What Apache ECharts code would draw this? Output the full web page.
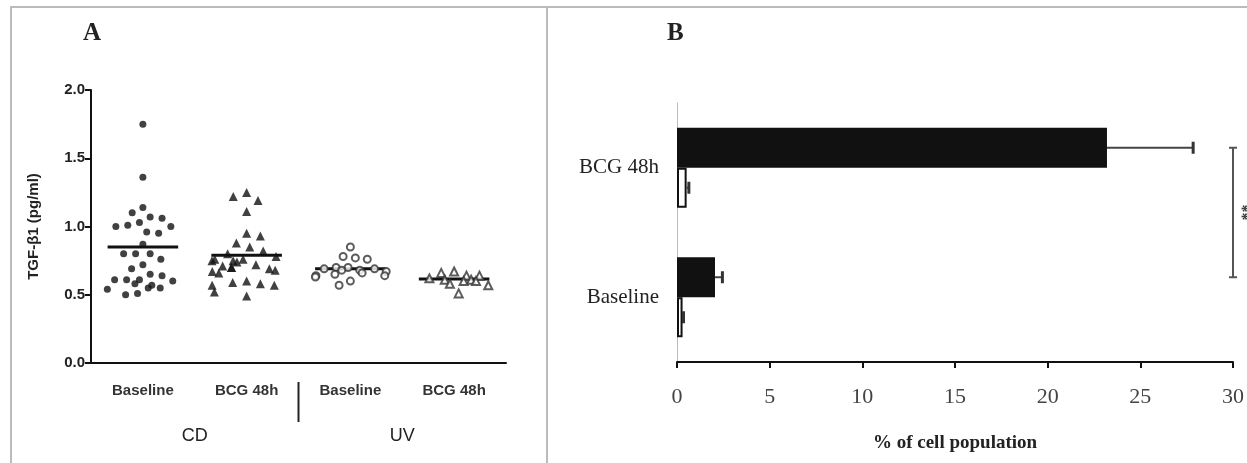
<!DOCTYPE html>
<html>
<head>
<meta charset="utf-8">
<script src="https://cdn.jsdelivr.net/npm/echarts@6/dist/echarts.min.js"></script>
<style>
    html, body { margin: 0; padding: 0; background: #fff; }
    #chart { width: 1247px; height: 463px; }
</style>
</head>
<body>
<div id="chart"></div>
<script>
// panel A: TGF-beta1 per subject
var groupLabels = ['Baseline', 'BCG 48h', 'Baseline', 'BCG 48h'];
var cohortLabels = ['CD', 'UV'];
var cdBaseline = [1.75, 1.36, 1.14, 1.10, 1.07, 1.06, 1.03, 1.01, 1.00, 1.00, 0.96, 0.95, 0.87, 0.80, 0.80, 0.80,
    0.76, 0.72, 0.69, 0.65, 0.64, 0.61, 0.61, 0.61, 0.60, 0.58, 0.57, 0.55, 0.55, 0.54, 0.51, 0.50];
var cdBcg = [1.25, 1.22, 1.19, 1.11, 0.95, 0.93, 0.88, 0.85, 0.82, 0.80, 0.78, 0.76, 0.76, 0.75, 0.75, 0.74,
    0.72, 0.71, 0.70, 0.70, 0.69, 0.68, 0.67, 0.66, 0.60, 0.59, 0.58, 0.57, 0.57, 0.52, 0.49];
var uvBaseline = [0.85, 0.78, 0.77, 0.76, 0.70, 0.70, 0.69, 0.69, 0.68, 0.68, 0.67, 0.66, 0.65, 0.64, 0.64, 0.63, 0.60, 0.57];
var uvBcg = [0.67, 0.66, 0.64, 0.64, 0.62, 0.61, 0.61, 0.60, 0.60, 0.58, 0.57, 0.51];
var groupMeans = [0.85, 0.79, 0.69, 0.615];

// panel B: % of cell population
var timeLabels = ['Baseline', 'BCG 48h'];
var cdPercent = [2.05, 23.2];
var cdPercentErr = [0.4, 4.65];
var uvPercent = [0.3, 0.52];
var uvPercentErr = [0.05, 0.12];

var SERIF = "'Liberation Serif', 'DejaVu Serif', serif";
var SANS = "'Liberation Sans', Arial, sans-serif";
var BAR_W = 40;

function toPoints(idx, values) {
    return values.map(function (v) {
        return [idx, v];
    });
}

function errorData(values, errs, slot) {
    return values.map(function (v, i) {
        return [v, i, errs[i], slot];
    });
}

var chart = echarts.init(document.getElementById('chart'));

var option = {
    animation: false,
    backgroundColor: '#fff',
    textStyle: {fontFamily: SANS},
    title: [
        {text: 'A', left: 78, top: 16, textStyle: {fontFamily: SERIF, fontSize: 25, fontWeight: 'bold', color: '#222'}},
        {text: 'B', left: 662, top: 16, textStyle: {fontFamily: SERIF, fontSize: 25, fontWeight: 'bold', color: '#222'}}
    ],
    grid: [
        {left: 91, top: 90, width: 415, height: 273},
        {left: 677, top: 103, width: 558, height: 259}
    ],
    xAxis: [
        {
            gridIndex: 0,
            type: 'category',
            data: groupLabels,
            jitter: 72,
            jitterOverlap: false,
            jitterMargin: 5,
            axisLine: {lineStyle: {color: '#111', width: 2}},
            axisTick: {alignWithLabel: true, length: 7, lineStyle: {color: '#111', width: 2}},
            axisLabel: {margin: 20, fontSize: 15, fontWeight: 'bold', color: '#333', fontFamily: SANS}
        },
        {
            gridIndex: 0,
            type: 'category',
            data: cohortLabels,
            position: 'bottom',
            offset: 54,
            axisLine: {show: false},
            axisTick: {show: false},
            axisLabel: {margin: 10, fontSize: 18, color: '#222', fontFamily: SANS}
        },
        {
            gridIndex: 1,
            type: 'value',
            min: 0,
            max: 30,
            interval: 5,
            splitLine: {show: false},
            axisLine: {show: true, lineStyle: {color: '#111', width: 2}},
            axisTick: {show: true, length: 6, lineStyle: {color: '#111', width: 2}},
            axisLabel: {margin: 24, fontSize: 22, color: '#444', fontFamily: SERIF},
            name: '% of cell population',
            nameLocation: 'middle',
            nameGap: 72,
            nameTextStyle: {fontSize: 19, fontWeight: 'bold', color: '#222', fontFamily: SERIF}
        }
    ],
    yAxis: [
        {
            gridIndex: 0,
            type: 'value',
            min: 0,
            max: 2,
            interval: 0.5,
            splitLine: {show: false},
            axisLine: {show: true, lineStyle: {color: '#111', width: 2}},
            axisTick: {show: true, length: 6, lineStyle: {color: '#111', width: 2}},
            axisLabel: {
                margin: 6, fontSize: 15, fontWeight: 'bold', color: '#222',
                formatter: function (v) {
                    return v.toFixed(1);
                }
            },
            name: 'TGF-β1 (pg/ml)',
            nameLocation: 'middle',
            nameRotate: 90,
            nameGap: 50,
            nameTextStyle: {fontSize: 15, fontWeight: 'bold', color: '#222'}
        },
        {
            gridIndex: 1,
            type: 'category',
            data: timeLabels,
            axisLine: {lineStyle: {color: '#bbb', width: 1}},
            axisTick: {show: false},
            axisLabel: {margin: 18, fontSize: 21, color: '#222', fontFamily: SERIF}
        }
    ],
    series: [
        {
            name: 'CD Baseline', type: 'scatter', xAxisIndex: 0, yAxisIndex: 0,
            symbol: 'circle', symbolSize: 7,
            itemStyle: {color: '#111'},
            data: toPoints(0, cdBaseline)
        },
        {
            name: 'CD BCG 48h', type: 'scatter', xAxisIndex: 0, yAxisIndex: 0,
            symbol: 'triangle', symbolSize: 9,
            itemStyle: {color: '#111'},
            data: toPoints(1, cdBcg)
        },
        {
            name: 'UV Baseline', type: 'scatter', xAxisIndex: 0, yAxisIndex: 0,
            symbol: 'emptyCircle', symbolSize: 7,
            itemStyle: {color: '#333', borderWidth: 1.2},
            data: toPoints(2, uvBaseline)
        },
        {
            name: 'UV BCG 48h', type: 'scatter', xAxisIndex: 0, yAxisIndex: 0,
            symbol: 'emptyTriangle', symbolSize: 8,
            itemStyle: {color: '#333', borderWidth: 1.2},
            data: toPoints(3, uvBcg)
        },
        {
            name: 'mean', type: 'custom', xAxisIndex: 0, yAxisIndex: 0,
            clip: false,
            data: groupMeans.map(function (m, i) {
                return [i, m];
            }),
            renderItem: function (params, api) {
                var p = api.coord([api.value(0), api.value(1)]);
                var half = api.size([1, 0])[0] * 0.34;
                return {
                    type: 'line',
                    shape: {x1: p[0] - half, y1: p[1], x2: p[0] + half, y2: p[1]},
                    style: {stroke: '#111', lineWidth: 3}
                };
            }
        },
        {
            name: 'CD', type: 'bar', xAxisIndex: 2, yAxisIndex: 1,
            barWidth: BAR_W, barGap: '0%',
            itemStyle: {color: '#111'},
            data: cdPercent
        },
        {
            name: 'UV', type: 'bar', xAxisIndex: 2, yAxisIndex: 1,
            barWidth: BAR_W, barGap: '0%',
            itemStyle: {color: '#fff', borderColor: '#111', borderWidth: 2},
            data: uvPercent
        },
        {
            name: 'error', type: 'custom', xAxisIndex: 2, yAxisIndex: 1,
            clip: false,
            z: 3,
            data: errorData(cdPercent, cdPercentErr, 0).concat(errorData(uvPercent, uvPercentErr, 1)),
            renderItem: function (params, api) {
                var v = api.value(0);
                var c = api.value(1);
                var start = api.coord([v, c]);
                var end = api.coord([v + api.value(2), c]);
                var y = start[1] + (api.value(3) === 0 ? -1 : 1) * BAR_W / 2;
                return {
                    type: 'group',
                    children: [
                        {type: 'line', shape: {x1: start[0], y1: y, x2: end[0], y2: y}, style: {stroke: '#444', lineWidth: 2}},
                        {type: 'line', shape: {x1: end[0], y1: y - 6, x2: end[0], y2: y + 6}, style: {stroke: '#333', lineWidth: 3}}
                    ]
                };
            }
        },
        {
            name: 'significance', type: 'custom', xAxisIndex: 2, yAxisIndex: 1,
            clip: false,
            data: [[30, 1, 0]],
            renderItem: function (params, api) {
                var top = api.coord([api.value(0), api.value(1)]);
                var bottom = api.coord([api.value(0), api.value(2)]);
                var x = top[0];
                var y1 = top[1] - BAR_W / 2;
                var y2 = bottom[1] - BAR_W / 2;
                return {
                    type: 'group',
                    children: [
                        {type: 'line', shape: {x1: x, y1: y1, x2: x, y2: y2}, style: {stroke: '#555', lineWidth: 2}},
                        {type: 'line', shape: {x1: x - 4, y1: y1, x2: x + 4, y2: y1}, style: {stroke: '#555', lineWidth: 2}},
                        {type: 'line', shape: {x1: x - 4, y1: y2, x2: x + 4, y2: y2}, style: {stroke: '#555', lineWidth: 2}},
                        {
                            type: 'text', x: x + 8, y: (y1 + y2) / 2, rotation: -Math.PI / 2,
                            style: {text: '**', align: 'center', verticalAlign: 'middle', font: 'bold 16px ' + SERIF, fill: '#333'}
                        }
                    ]
                };
            }
        }
    ],
    graphic: [
        {type: 'line', shape: {x1: 10, y1: 7, x2: 1247, y2: 7}, style: {stroke: '#bbb', lineWidth: 2}},
        {type: 'line', shape: {x1: 11, y1: 7, x2: 11, y2: 463}, style: {stroke: '#bbb', lineWidth: 2}},
        {type: 'line', shape: {x1: 547, y1: 7, x2: 547, y2: 463}, style: {stroke: '#bbb', lineWidth: 2}}
    ]
};

chart.setOption(option);

// separator between the CD and UV groups, placed from the category axis
var sepX = (chart.convertToPixel({xAxisIndex: 0}, 1) + chart.convertToPixel({xAxisIndex: 0}, 2)) / 2;
var axisY = chart.convertToPixel({yAxisIndex: 0}, 0);
chart.setOption({
    graphic: option.graphic.concat([
        {type: 'line', shape: {x1: sepX, y1: axisY + 19, x2: sepX, y2: axisY + 59}, style: {stroke: '#222', lineWidth: 2}}
    ])
});
</script>
</body>
</html>
